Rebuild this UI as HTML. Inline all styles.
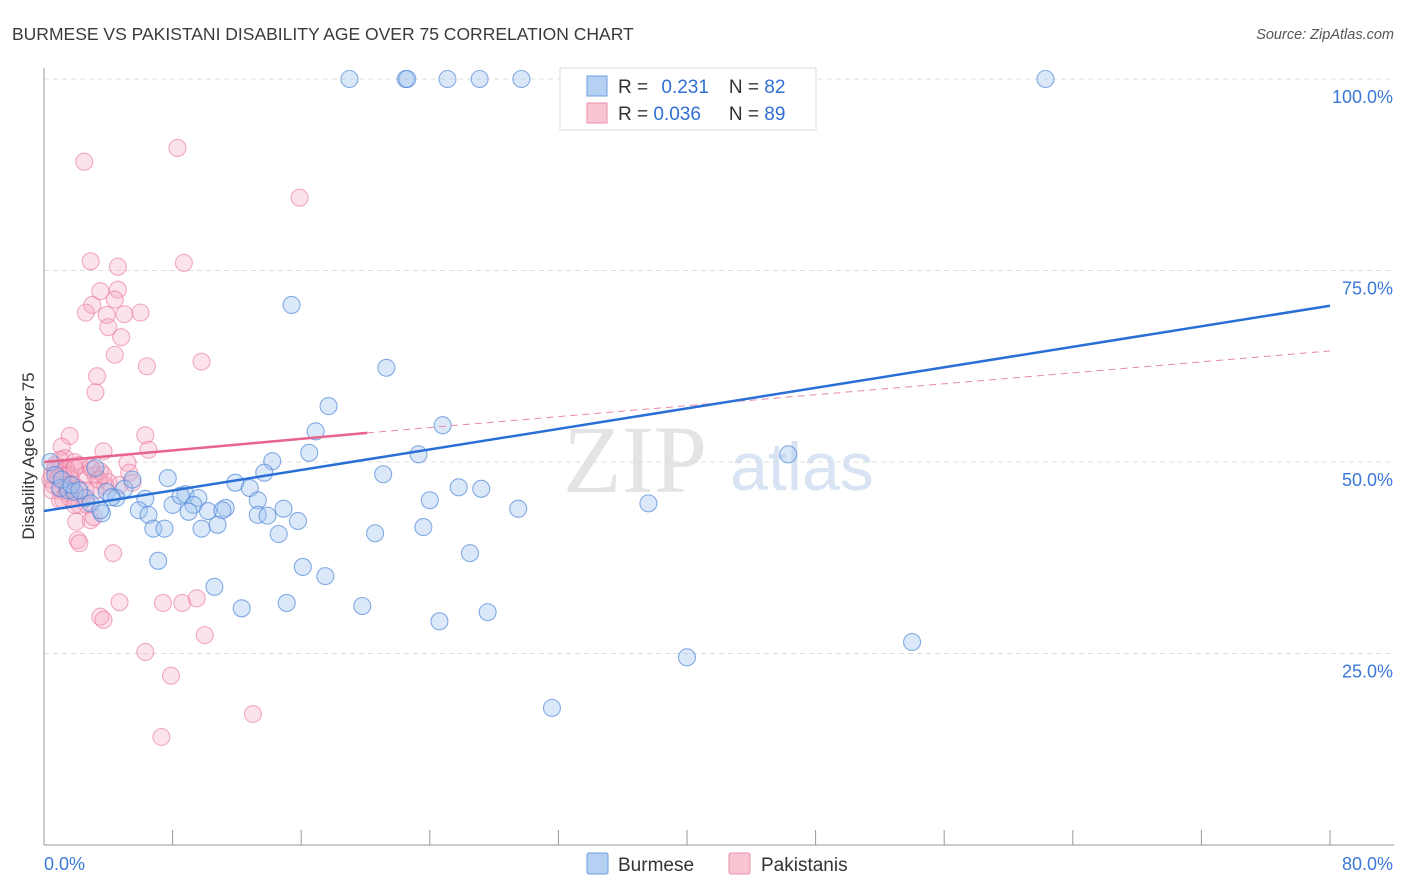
<!DOCTYPE html>
<html><head><meta charset="utf-8"><style>
body{margin:0;background:#fff;font-family:"Liberation Sans",sans-serif;}
svg{display:block}
</style></head><body>
<svg id="chart" width="1406" height="892">
<text x="12" y="40" font-size="17.5" fill="#3a3a3a">BURMESE VS PAKISTANI DISABILITY AGE OVER 75 CORRELATION CHART</text>
<text x="1394" y="39" font-size="14.5" fill="#555" font-style="italic" text-anchor="end">Source: ZipAtlas.com</text>
<text transform="translate(34,456) rotate(-90)" font-size="17" fill="#333" text-anchor="middle">Disability Age Over 75</text>
<text x="635" y="492" font-size="96" fill="#e4e4e4" font-family="Liberation Serif,serif" text-anchor="middle">ZIP</text>
<text x="802" y="490" font-size="68" fill="#d8e4f4" text-anchor="middle">atlas</text>
<g id="grid"></g><g id="axes"></g><g id="pts"></g><g id="trend"></g>
<g>
<rect x="560" y="68" width="256" height="62" fill="#fff" stroke="#ddd"/>
<rect x="587" y="76" width="20" height="20" fill="#b6d0f3" stroke="#6f9ee0"/>
<rect x="587" y="103" width="20" height="20" fill="#f9c5d3" stroke="#ea8eac"/>
<text x="618" y="93" font-size="19" fill="#333">R = <tspan fill="#2f6fd4" dx="8">0.231</tspan><tspan dx="20" fill="#333">N = </tspan><tspan fill="#2f6fd4">82</tspan></text>
<text x="618" y="120" font-size="19" fill="#333">R = <tspan fill="#2f6fd4">0.036</tspan><tspan dx="28" fill="#333">N = </tspan><tspan fill="#2f6fd4">89</tspan></text>
</g>
<g>
<rect x="587" y="853" width="21" height="21" rx="2" fill="#b6d0f3" stroke="#6f9ee0"/>
<text x="618" y="871" font-size="19" fill="#333">Burmese</text>
<rect x="729" y="853" width="21" height="21" rx="2" fill="#f9c5d3" stroke="#ea8eac"/>
<text x="761" y="871" font-size="19" fill="#333">Pakistanis</text>
</g>
</svg>
<script>
const yTicks=[25,50,75,100];
const yTickLabels=["25.0%","50.0%","75.0%","100.0%"];
const xEndLabels=["0.0%","80.0%"];
const burmeseX=[19.0,22.5,22.6,25.1,27.1,29.7,62.3,15.4,21.3,17.7,24.8,16.9,46.3,23.3,16.5,14.2,13.7,21.1,7.7,25.8,27.2,11.9,12.8,3.2,5.0,5.5,3.9,4.5,6.3,8.0,8.8,9.6,8.5,9.3,10.2,11.3,13.3,14.9,24.0,37.6,29.5,5.9,6.5,9.0,11.1,13.3,13.9,15.8,3.6,6.8,7.5,9.8,10.8,14.6,20.6,23.6,7.1,26.5,16.1,17.5,10.6,12.3,15.1,19.8,27.6,24.6,54.0,40.0,31.6,0.4,0.7,1.0,1.5,1.9,2.6,2.9,1.1,1.7,2.2,4.2,3.5];
const burmeseY=[100,100,100,100,100,100,100,70.5,62.3,57.3,54.8,54.0,51.0,51.0,51.2,50.1,48.6,48.4,47.9,46.7,46.5,47.3,46.6,49.2,46.5,47.7,46.1,45.3,45.2,44.4,45.8,45.3,45.6,44.4,43.6,44.0,45.0,43.9,45.0,44.6,43.9,43.7,43.1,43.5,43.7,43.1,43.0,42.3,43.3,41.3,41.3,41.3,41.8,40.6,40.7,41.5,37.1,38.1,36.3,35.1,33.7,30.9,31.6,31.2,30.4,29.2,26.5,24.5,17.9,50.0,48.3,46.6,46.3,46.1,45.3,44.6,47.7,47.0,46.3,45.4,43.7];
const pakX=[2.5,8.3,15.9,2.9,4.6,8.7,3.5,4.6,4.4,3.0,2.6,3.9,5.0,6.0,4.0,4.8,4.4,6.4,9.8,3.3,3.2,6.3,1.6,1.1,3.7,6.5,5.2,1.3,1.9,2.2,2.9,3.5,5.3,0.9,0.5,0.6,1.0,1.4,1.7,2.1,2.6,3.2,4.0,3.8,4.7,5.5,0.7,1.0,1.4,1.6,1.2,2.4,2.7,3.2,2.2,2.9,3.1,2.0,2.1,2.2,4.3,3.5,3.7,4.7,7.4,8.6,9.5,10.0,6.3,7.9,13.0,7.3,0.4,0.7,1.2,1.5,1.9,0.9,0.5,2.6,3.0,3.4,3.7,1.6,1.9,1.4,1.0];
const pakY=[89.2,91.0,84.5,76.2,75.5,76.0,72.3,72.5,71.2,70.5,69.5,69.2,69.3,69.5,67.6,66.3,64.0,62.5,63.1,61.2,59.1,53.5,53.4,52.0,51.4,51.6,49.9,50.5,50.0,49.6,49.3,48.8,48.6,49.0,48.3,47.0,46.3,46.0,47.7,46.6,48.3,48.3,47.4,46.9,47.0,47.3,49.6,50.3,49.0,48.3,45.0,45.4,44.4,46.3,44.4,42.4,42.8,42.2,39.8,39.4,38.1,29.8,29.4,31.7,31.6,31.6,32.2,27.4,25.2,22.1,17.1,14.1,47.7,49.0,48.2,47.0,49.2,47.9,46.3,46.3,49.0,47.7,48.3,45.3,44.4,46.6,45.0];
const burmeseTrendX=[0,80];
const burmeseTrendY=[43.6,70.4];
const pakTrendX=[0,20.1,80];
const pakTrendY=[50.0,53.8,64.5];

const NS="http://www.w3.org/2000/svg";
const X0=44,X1=1330,Y0=845,Y100=79;
function sx(v){return X0+(X1-X0)*v/80;}
function sy(v){return Y0-(Y0-Y100)*v/100;}
function mk(tag,attrs,parent){const e=document.createElementNS(NS,tag);for(const k in attrs)e.setAttribute(k,attrs[k]);parent.appendChild(e);return e;}
const grid=document.getElementById('grid'),axes=document.getElementById('axes'),pts=document.getElementById('pts'),trend=document.getElementById('trend');
yTicks.forEach((t,i)=>{
  const l=mk('line',{x1:X0,x2:1394,y1:sy(t),y2:sy(t),stroke:'#ddd','stroke-dasharray':'5,4'},grid);
  
  
  const tx=mk('text',{x:1393,y:sy(t)+24,'font-size':18,fill:'#3b78d8','text-anchor':'end'},axes);
  tx.textContent=yTickLabels[i];
  
  
});
const ya=mk('line',{x1:X0,x2:X0,y1:68,y2:Y0,stroke:'#999'},axes);


const xa=mk('line',{x1:X0,x2:1394,y1:Y0,y2:Y0,stroke:'#999'},axes);


for(let k=0;k<=10;k++){
  const v=k*8;
  const t=mk('line',{x1:sx(v),x2:sx(v),y1:830,y2:Y0,stroke:'#999'},axes);
  
  
}
const xl0=mk('text',{x:44,y:870,'font-size':18,fill:'#3b78d8'},axes);xl0.textContent=xEndLabels[0];


const xl1=mk('text',{x:1393,y:870,'font-size':18,fill:'#3b78d8','text-anchor':'end'},axes);xl1.textContent=xEndLabels[1];


pakX.forEach((x,i)=>{
  const c=mk('circle',{cx:sx(x),cy:sy(pakY[i]),r:8.5,fill:'rgba(245,165,190,0.32)',stroke:'rgba(232,120,158,0.6)','stroke-width':1.1},pts);
  
  
});
burmeseX.forEach((x,i)=>{
  const c=mk('circle',{cx:sx(x),cy:sy(burmeseY[i]),r:8.5,fill:'rgba(160,195,240,0.38)',stroke:'rgba(70,130,215,0.65)','stroke-width':1.1},pts);
  
  
});
const pd=mk('line',{x1:sx(pakTrendX[1]),y1:sy(pakTrendY[1]),x2:sx(pakTrendX[2]),y2:sy(pakTrendY[2]),stroke:'#e88aa8','stroke-width':1,'stroke-dasharray':'7,5'},trend);


const ps=mk('line',{x1:sx(pakTrendX[0]),y1:sy(pakTrendY[0]),x2:sx(pakTrendX[1]),y2:sy(pakTrendY[1]),stroke:'#e8648c','stroke-width':2.5},trend);


const bt=mk('line',{x1:sx(burmeseTrendX[0]),y1:sy(burmeseTrendY[0]),x2:sx(burmeseTrendX[1]),y2:sy(burmeseTrendY[1]),stroke:'#2a6fd6','stroke-width':2.5},trend);


</script>
</body></html>
